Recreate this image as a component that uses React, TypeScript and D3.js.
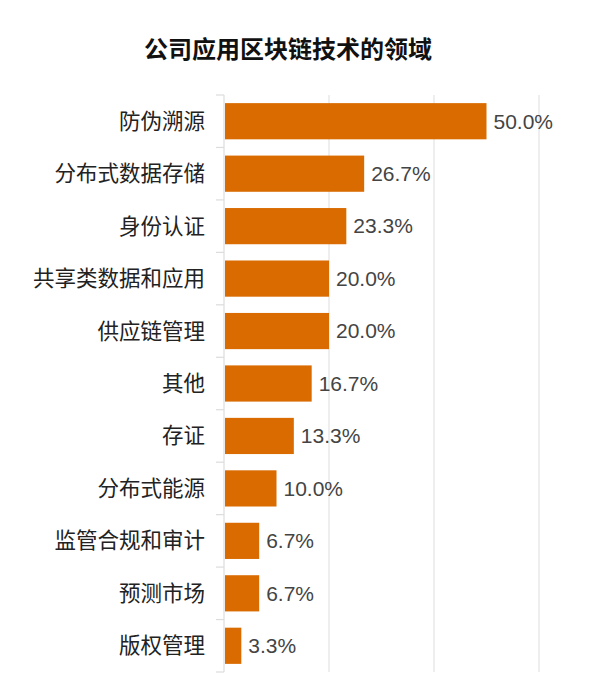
import { useEffect, useRef } from 'react'
import * as d3 from 'd3'

const categories = [
  '防伪溯源',
  '分布式数据存储',
  '身份认证',
  '共享类数据和应用',
  '供应链管理',
  '其他',
  '存证',
  '分布式能源',
  '监管合规和审计',
  '预测市场',
  '版权管理',
]
const values = [50.0, 26.7, 23.3, 20.0, 20.0, 16.7, 13.3, 10.0, 6.7, 6.7, 3.3]
const gridTicks = [0, 20, 40, 60]
const title = '公司应用区块链技术的领域'

const FONT = '"Noto Sans CJK SC", "Liberation Sans", Arial, sans-serif'

export default function App() {
  const svgRef = useRef<SVGSVGElement>(null)

  useEffect(() => {
    if (!svgRef.current) return
    const svg = d3.select(svgRef.current)
    svg.selectAll('*').remove()

    const width = 592
    const height = 696
    const margin = { top: 95, right: 53, bottom: 24, left: 224 }

    const x = d3.scaleLinear()
      .domain([0, 60])
      .range([margin.left, width - margin.right])

    const y = d3.scaleBand()
      .domain(categories)
      .range([margin.top, height - margin.bottom])
      .paddingInner(0.31)
      .paddingOuter(0.155)

    svg.append('rect')
      .attr('width', width)
      .attr('height', height)
      .attr('fill', '#ffffff')

    // Title
    svg.append('text')
      .attr('x', 288)
      .attr('y', 58)
      .attr('text-anchor', 'middle')
      .attr('font-family', FONT)
      .attr('font-size', '24px')
      .attr('font-weight', 'bold')
      .attr('fill', '#111')
      .text(title)

    // Vertical gridlines
    svg.append('g')
      .selectAll('line')
      .data(gridTicks.slice(1))
      .join('line')
      .attr('x1', d => x(d))
      .attr('x2', d => x(d))
      .attr('y1', margin.top)
      .attr('y2', height - margin.bottom)
      .attr('stroke', '#e3e3e3')
      .attr('stroke-width', 1.2)

    // Left axis with ticks at band boundaries
    const step = y.step()
    const boundaries = d3.range(categories.length + 1).map(i => margin.top + i * step)
    const axis = svg.append('g')
    axis.append('line')
      .attr('x1', x(0))
      .attr('x2', x(0))
      .attr('y1', margin.top)
      .attr('y2', height - margin.bottom)
      .attr('stroke', '#dcdcdc')
      .attr('stroke-width', 1.2)
    axis.selectAll('line.tick')
      .data(boundaries)
      .join('line')
      .attr('class', 'tick')
      .attr('x1', x(0) - 8)
      .attr('x2', x(0))
      .attr('y1', d => d)
      .attr('y2', d => d)
      .attr('stroke', '#dcdcdc')
      .attr('stroke-width', 1.2)

    // Category labels
    svg.append('g')
      .selectAll('text')
      .data(categories)
      .join('text')
      .attr('x', x(0) - 19)
      .attr('y', d => y(d)! + y.bandwidth() / 2)
      .attr('dy', '0.35em')
      .attr('text-anchor', 'end')
      .attr('font-family', FONT)
      .attr('font-size', '21.5px')
      .attr('fill', '#222')
      .text(d => d)

    // Bars
    svg.append('g')
      .selectAll('rect')
      .data(values)
      .join('rect')
      .attr('x', x(0) + 1)
      .attr('y', (_, i) => y(categories[i])!)
      .attr('width', d => x(d) - x(0) - 1)
      .attr('height', y.bandwidth())
      .attr('fill', '#d96b00')

    // Value labels
    svg.append('g')
      .selectAll('text')
      .data(values)
      .join('text')
      .attr('x', d => x(d) + 7)
      .attr('y', (_, i) => y(categories[i])! + y.bandwidth() / 2)
      .attr('dy', '0.35em')
      .attr('font-family', '"Liberation Sans", Arial, sans-serif')
      .attr('font-size', '21px')
      .attr('fill', '#444')
      .text(d => `${d.toFixed(1)}%`)
  }, [])

  return (
    <div style={{ position: 'absolute', left: 0, top: 0 }}>
      <svg ref={svgRef} width={592} height={696} style={{ display: 'block' }} />
    </div>
  )
}
